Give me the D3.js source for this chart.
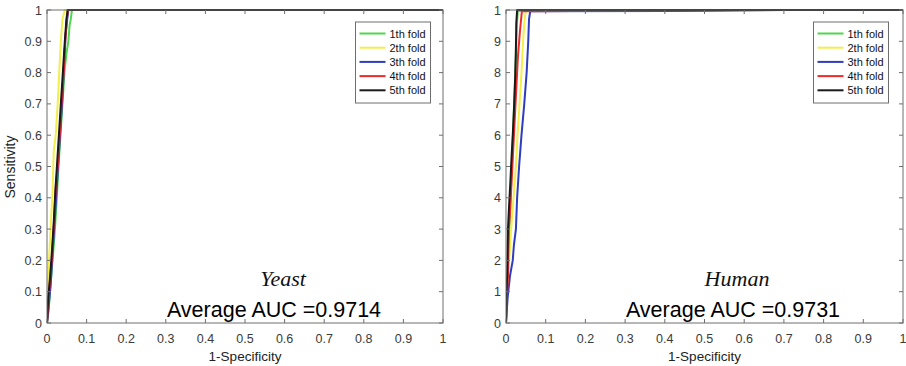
<!DOCTYPE html>
<html lang="en">
<head>
<meta charset="UTF-8">
<title>ROC curves - Yeast / Human</title>
<script src="https://d3js.org/d3.v7.min.js"></script>
<style>
    body { margin: 0; background: #fff; }
    svg { display: block; font-family: "Liberation Sans", Arial, sans-serif; }
    .tick-label { font-size: 12.5px; fill: #3a3a3a; }
    .axis-title { font-size: 13.5px; fill: #222; }
    .legend-text { font-size: 11px; fill: #111; }
</style>
</head>
<body>
<div id="chart"></div>
<script>
// fold names + colours
const foldNames = ["1th fold", "2th fold", "3th fold", "4th fold", "5th fold"];
const foldColors = ["#4fd64f", "#f2ee4a", "#2e3cc0", "#ee2b2b", "#1a1a1a"];

const ticks = [0, 0.1, 0.2, 0.3, 0.4, 0.5, 0.6, 0.7, 0.8, 0.9, 1];

// Yeast ROC points [1-specificity, sensitivity]
const yeastFold1 = [[0,0],[0.004,0.04],[0.009,0.12],[0.014,0.2],[0.019,0.28],[0.024,0.38],[0.029,0.5],[0.034,0.6],[0.039,0.7],[0.044,0.8],[0.049,0.86],[0.054,0.9],[0.057,0.95],[0.06,0.97],[0.063,1],[1,1]];
const yeastFold2 = [[0,0],[0.002,0.1],[0.005,0.2],[0.009,0.3],[0.014,0.42],[0.017,0.55],[0.022,0.6],[0.027,0.7],[0.031,0.8],[0.035,0.9],[0.039,0.97],[0.045,1],[1,1]];
const yeastFold3 = [[0,0],[0.004,0.05],[0.009,0.12],[0.014,0.22],[0.019,0.32],[0.024,0.42],[0.029,0.52],[0.034,0.62],[0.039,0.72],[0.044,0.85],[0.047,0.92],[0.051,0.97],[0.054,1],[1,1]];
const yeastFold4 = [[0,0],[0.003,0.06],[0.008,0.14],[0.013,0.22],[0.018,0.33],[0.022,0.43],[0.027,0.5],[0.032,0.6],[0.037,0.71],[0.042,0.8],[0.046,0.9],[0.05,0.97],[0.053,1],[1,1]];
const yeastFold5 = [[0,0],[0.003,0.08],[0.008,0.15],[0.012,0.22],[0.017,0.32],[0.021,0.42],[0.025,0.5],[0.03,0.6],[0.035,0.7],[0.04,0.8],[0.045,0.9],[0.049,0.97],[0.052,1],[1,1]];

// Human ROC points
const humanFold1 = [[0,0],[0.002,0.1],[0.004,0.15],[0.007,0.25],[0.01,0.35],[0.013,0.45],[0.016,0.55],[0.019,0.65],[0.022,0.75],[0.025,0.85],[0.027,0.95],[0.03,0.997],[0.35,0.998],[0.6,1],[1,1]];
const humanFold2 = [[0,0],[0.004,0.1],[0.008,0.2],[0.013,0.3],[0.019,0.4],[0.025,0.5],[0.029,0.6],[0.034,0.7],[0.039,0.8],[0.043,0.9],[0.047,0.97],[0.05,0.997],[0.5,1],[1,1]];
const humanFold3 = [[0,0],[0.004,0.08],[0.01,0.15],[0.017,0.2],[0.02,0.25],[0.025,0.3],[0.028,0.4],[0.033,0.5],[0.039,0.6],[0.046,0.7],[0.052,0.8],[0.056,0.9],[0.058,0.97],[0.061,0.996],[0.4,0.997],[0.7,1],[1,1]];
const humanFold4 = [[0,0],[0.002,0.08],[0.005,0.15],[0.007,0.3],[0.01,0.35],[0.014,0.45],[0.018,0.55],[0.022,0.65],[0.026,0.75],[0.03,0.85],[0.035,0.93],[0.04,0.996],[0.3,0.998],[0.6,1],[1,1]];
const humanFold5 = [[0,0],[0.001,0.1],[0.003,0.15],[0.005,0.3],[0.008,0.38],[0.011,0.45],[0.014,0.53],[0.017,0.6],[0.02,0.68],[0.023,0.78],[0.025,0.88],[0.026,0.96],[0.028,1],[1,1]];

const svg = d3.select("#chart").append("svg").attr("width", 906).attr("height", 366);

// crop the right panel's left edge like the original figure
svg.append("defs").append("clipPath").attr("id", "rightCrop")
    .append("rect").attr("x", 494).attr("y", 0).attr("width", 412).attr("height", 366);

function drawPanel(opts) {
    const g = svg.append("g");
    if (opts.clip) g.attr("clip-path", "url(#rightCrop)");

    const x = d3.scaleLinear().domain([0, 1]).range([opts.left, opts.right]);
    const y = d3.scaleLinear().domain([0, 1]).range([323, 10]);
    const x0 = opts.left, x1 = opts.right, y0 = 323, y1 = 10;

    // curves
    const line = d3.line().x(d => x(d[0])).y(d => y(d[1]));
    const plot = g.append("g");
    plot.append("clipPath").attr("id", "pc" + opts.id)
        .append("rect").attr("x", x0).attr("y", y1 - 1).attr("width", x1 - x0).attr("height", y0 - y1 + 1);
    opts.folds.forEach((f, i) => {
        plot.append("path").datum(f)
            .attr("clip-path", `url(#pc${opts.id})`)
            .attr("fill", "none")
            .attr("stroke", foldColors[i])
            .attr("stroke-width", 2)
            .attr("stroke-linejoin", "round")
            .attr("d", line);
    });

    // box with inward ticks (matlab style)
    const ax = g.append("g").attr("stroke", "#6e6e6e").attr("stroke-width", 1);
    ax.append("rect").attr("x", x0).attr("y", y1).attr("width", x1 - x0).attr("height", y0 - y1)
        .attr("fill", "none");
    ticks.forEach(t => {
        ax.append("line").attr("x1", x(t)).attr("x2", x(t)).attr("y1", y0).attr("y2", y0 - 4);
        ax.append("line").attr("x1", x(t)).attr("x2", x(t)).attr("y1", y1).attr("y2", y1 + 4);
        ax.append("line").attr("x1", x0).attr("x2", x0 + 4).attr("y1", y(t)).attr("y2", y(t));
        ax.append("line").attr("x1", x1).attr("x2", x1 - 4).attr("y1", y(t)).attr("y2", y(t));
    });

    // tick labels
    g.selectAll(".xl").data(ticks).join("text")
        .attr("class", "tick-label")
        .attr("x", d => x(d)).attr("y", 343)
        .attr("text-anchor", "middle")
        .text(d => d3.format("~g")(d));
    g.selectAll(".yl").data(ticks).join("text")
        .attr("class", "tick-label")
        .attr("x", x0 - 5).attr("y", d => y(d) + 4.5)
        .attr("text-anchor", "end")
        .text(d => d3.format("~g")(d));

    g.append("text").attr("class", "axis-title")
        .attr("x", (x0 + x1) / 2).attr("y", 361).attr("text-anchor", "middle")
        .text("1-Specificity");
    g.append("text").attr("class", "axis-title")
        .attr("transform", `translate(${x0 - 32},167) rotate(-90)`)
        .attr("text-anchor", "middle").style("font-size", "14px")
        .text("Sensitivity");

    // legend
    const lg = g.append("g").attr("transform", `translate(${opts.legendX},22)`);
    lg.append("rect").attr("width", 75).attr("height", 81)
        .attr("fill", "#fff").attr("stroke", "#6e6e6e").attr("stroke-width", 1);
    foldNames.forEach((n, i) => {
        const ly = 11.5 + i * 14.2;
        lg.append("line").attr("x1", 4).attr("x2", 30).attr("y1", ly).attr("y2", ly)
            .attr("stroke", foldColors[i]).attr("stroke-width", 2);
        lg.append("text").attr("class", "legend-text")
            .attr("x", 34).attr("y", ly + 4).text(n);
    });

    // annotations
    g.append("text")
        .attr("x", opts.nameX).attr("y", 286).attr("text-anchor", "middle")
        .style("font-family", "'Liberation Serif', 'Times New Roman', serif")
        .style("font-style", "italic").style("font-size", "22px").attr("fill", "#111")
        .text(opts.name);
    g.append("text")
        .attr("x", opts.aucX).attr("y", 317).attr("text-anchor", "middle")
        .style("font-size", "21.5px").attr("fill", "#000")
        .text("Average AUC =" + opts.auc);
}

drawPanel({ id: 1, left: 47, right: 443, folds: [yeastFold1, yeastFold2, yeastFold3, yeastFold4, yeastFold5],
    legendX: 355.5, name: "Yeast", nameX: 283, auc: "0.9714", aucX: 274, clip: false });
drawPanel({ id: 2, left: 506, right: 903, folds: [humanFold1, humanFold2, humanFold3, humanFold4, humanFold5],
    legendX: 813.5, name: "Human", nameX: 737, auc: "0.9731", aucX: 733, clip: true });
</script>
</body>
</html>
